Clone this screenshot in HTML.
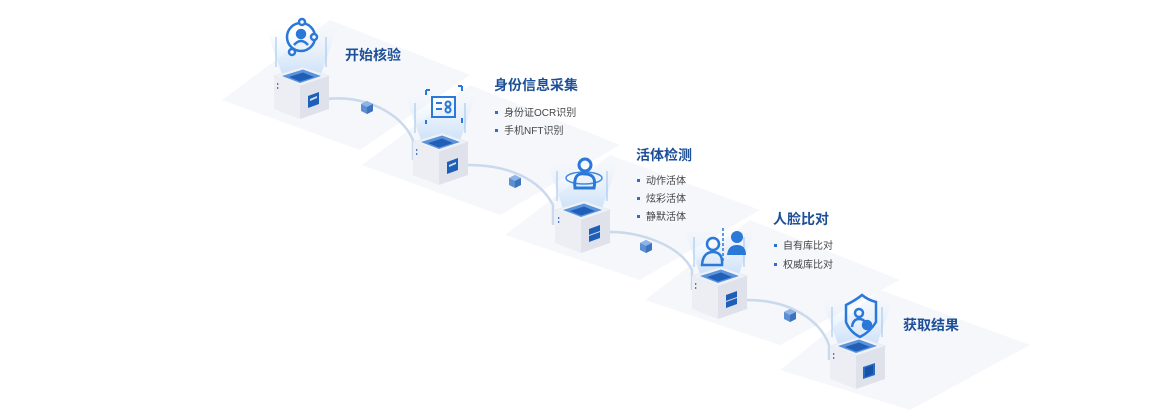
<!DOCTYPE html>
<html><head><meta charset="utf-8"><style>
html,body{margin:0;padding:0;background:#fff;}
body{width:1160px;height:420px;overflow:hidden;position:relative;font-family:"Liberation Sans","Noto Sans CJK SC",sans-serif;}
.t{position:absolute;font-size:14px;font-weight:bold;color:#1d4f98;white-space:nowrap;}
.b{position:absolute;font-size:10px;color:#444;white-space:nowrap;}
.b:before{content:"";display:inline-block;width:3px;height:3px;background:#2a6fc9;margin-right:6px;vertical-align:middle;position:relative;top:-1px;}
svg{position:absolute;left:0;top:0;}
</style></head><body>
<svg width="1160" height="420" viewBox="0 0 1160 420">
<defs>
<linearGradient id="beam" x1="0" y1="0" x2="0" y2="1">
<stop offset="0" stop-color="#dcebfc" stop-opacity="0"/>
<stop offset="1" stop-color="#b6d5f7" stop-opacity="0.7"/>
</linearGradient>
<g id="body">
<polygon points="-8,-38 63,-38 46,10 9,10" fill="url(#beam)"/>
<line x1="2" y1="-30" x2="2" y2="0" stroke="#9cc1ee" stroke-width="1"/>
<line x1="52" y1="-30" x2="52" y2="0" stroke="#9cc1ee" stroke-width="1"/>
<polygon points="0,9 29,0 55,9 26,19" fill="#eef1f7" stroke="#e1e5ee" stroke-width="0.6"/>
<polygon points="8,9 29,2.5 47,9 26,16" fill="#5a93db"/>
<polygon points="15,10 29,5.5 40,10 26,14.5" fill="#1f5fb8"/>
<polygon points="0,9 26,19 26,52 0,42" fill="#eceef4"/>
<polygon points="26,19 55,9 55,42 26,52" fill="#dfe2ea"/>
<rect x="3" y="16" width="1.3" height="2" fill="#4a7cc8"/>
<rect x="3" y="20" width="1.3" height="2" fill="#4a7cc8"/>
</g>
<g id="cube">
<use href="#body"/>
<polygon points="34,29 45,25 45,37 34,41" fill="#1f5fb8"/>
<polygon points="36,32 43,29 43,31 36,34" fill="#cfe0f7"/>
</g>
<g id="cube2">
<use href="#body"/>
<polygon points="34,28 45,24 45,30 34,34" fill="#1f5fb8"/>
<polygon points="34,35 45,31 45,37 34,41" fill="#1f5fb8"/>
</g>
<g id="cube3">
<use href="#body"/>
<polygon points="33,30 45,26 45,38 33,42" fill="#2a6ac4"/>
<polygon points="35,31 43,28 43,37 35,40" fill="#1552a8"/>
</g>
<g id="hex">
<polygon points="0,-6 6,-3 6,4 0,7 -6,4 -6,-3" fill="#5b8fd2"/>
<polygon points="0,-6 6,-3 0,0 -6,-3" fill="#8db4e8"/>
<polygon points="0,0 6,-3 6,4 0,7" fill="#3f73bd"/>
</g>
</defs>
<!-- platforms -->
<g fill="#f5f7fb">
<polygon points="222,100 330,20 470,75 360,150"/>
<polygon points="362,165 470,85 620,145 500,215"/>
<polygon points="505,235 610,155 760,210 640,280"/>
<polygon points="645,300 750,220 900,280 780,345"/>
<polygon points="780,370 880,290 1030,345 910,410"/>
</g>
<!-- connectors -->
<g fill="none" stroke="#cad9ec" stroke-width="2.5">
<path d="M328,99 C360,95 400,110 413,140 L413,160"/>
<path d="M468,165 C510,165 540,180 553,205 L553,225"/>
<path d="M610,232 C640,232 680,245 692,270 L692,290"/>
<path d="M747,300 C790,300 820,320 829,345 L829,360"/>
</g>
<use href="#hex" x="367" y="107"/>
<use href="#hex" x="515" y="181"/>
<use href="#hex" x="646" y="246"/>
<use href="#hex" x="790" y="315"/>
<!-- cubes -->
<use href="#cube" x="274" y="67"/>
<use href="#cube" x="413" y="133"/>
<use href="#cube2" x="555" y="201"/>
<use href="#cube2" x="692" y="267"/>
<use href="#cube3" x="830" y="337"/>
<!-- icons -->
<g fill="none" stroke="#2a78d8" stroke-width="2.5">
<circle cx="301" cy="37" r="14"/>
<circle cx="301" cy="34" r="4" fill="#2a78d8"/>
<path d="M294,45 Q301,37 308,45"/>
<circle cx="292" cy="52" r="3" fill="#fff"/>
<circle cx="314" cy="37" r="3" fill="#fff"/>
<circle cx="302" cy="22" r="3" fill="#fff"/>
</g>
<g fill="none" stroke="#2a78d8" stroke-width="2">
<rect x="432" y="97" width="23" height="20"/>
<path d="M436,103 h6 M436,109 h6"/>
<circle cx="448" cy="104" r="2.5"/><circle cx="448" cy="110" r="2.5"/>
<path d="M426,90 v5 M426,90 h4 M462,86 v5 M458,86 h4 M426,120 v4 M462,118 v5"/>
</g>
<g fill="none" stroke="#2a78d8" stroke-width="3">
<ellipse cx="584" cy="178" rx="18" ry="6" stroke-width="1.5" stroke="#3f8ae0"/>
<circle cx="585" cy="165" r="6"/>
<path d="M575,188 Q573,172 585,174 Q597,174 594,188 Z"/>
</g>
<g fill="#2a78d8">
<circle cx="713" cy="244" r="6" fill="none" stroke="#2a78d8" stroke-width="2.5"/>
<path d="M702,265 Q703,252 713,252 Q723,252 722,265 Z" fill="none" stroke="#2a78d8" stroke-width="2.5"/>
<circle cx="737" cy="237" r="6"/>
<path d="M727,255 Q728,245 737,245 Q746,245 746,255 Z"/>
<path d="M723,228 v35" stroke="#2a78d8" stroke-width="1.5" stroke-dasharray="3,2"/>
</g>
<g fill="none" stroke="#2a78d8" stroke-width="2.5">
<path d="M846,305 Q856,300 862,295 Q868,300 876,302 V322 Q870,332 860,337 Q850,332 846,322 Z"/>
<circle cx="859" cy="313" r="4"/>
<path d="M852,327 Q853,319 859,319 Q865,319 866,325"/>
<circle cx="867" cy="325" r="4" fill="#2a78d8"/>
</g>
</svg>
<div class="t" style="left:345px;top:45px;">开始核验</div>
<div class="t" style="left:494px;top:75px;">身份信息采集</div>
<div class="b" style="left:495px;top:104px;">身份证OCR识别</div>
<div class="b" style="left:495px;top:122px;">手机NFT识别</div>
<div class="t" style="left:636px;top:145px;">活体检测</div>
<div class="b" style="left:637px;top:172px;">动作活体</div>
<div class="b" style="left:637px;top:190px;">炫彩活体</div>
<div class="b" style="left:637px;top:208px;">静默活体</div>
<div class="t" style="left:773px;top:209px;">人脸比对</div>
<div class="b" style="left:774px;top:237px;">自有库比对</div>
<div class="b" style="left:774px;top:256px;">权威库比对</div>
<div class="t" style="left:903px;top:315px;">获取结果</div>
</body></html>
